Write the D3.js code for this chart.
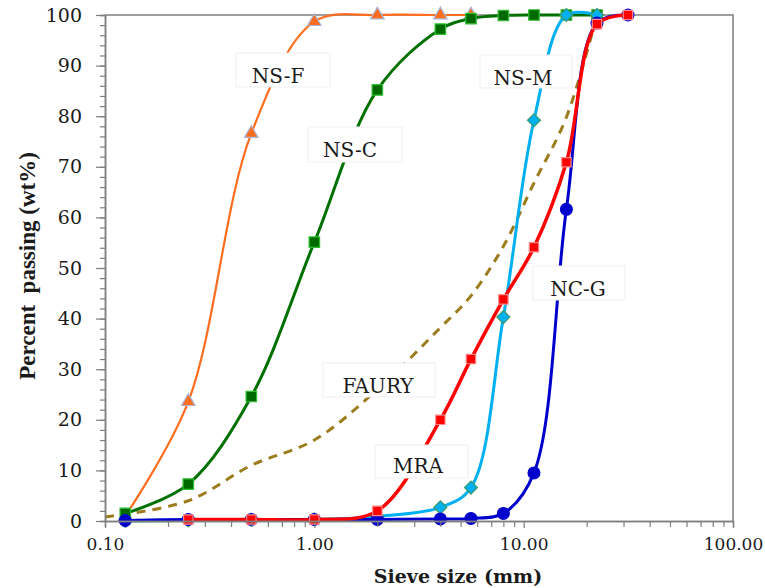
<!DOCTYPE html>
<html>
<head>
<meta charset="utf-8">
<script src="https://cdn.jsdelivr.net/npm/d3@7"></script>
<style>
  body { margin: 0; background: #fff; }
  svg { display: block; }
</style>
</head>
<body>
<svg id="chart" width="765" height="588"></svg>
<script>
let kCanvas = { "w": 765, "h": 588 };
let kChart = { "left": 105, "right": 733, "top": 15, "bottom": 521 };

// sieve openings (mm)
let sieveSizes = [0.125, 0.25, 0.5, 1, 2, 4, 5.6, 8, 11.2, 16, 22.4, 31.5];

// percent passing per sieve (null = not measured)
let passNSF = [1.0, 23.6, 76.6, 98.7, 100, 100, 100, null, null, null, null, null];
let passNSC = [1.5, 7.3, 24.6, 55.1, 85.2, 97.2, 99.3, 99.9, 100, 100, 100, null];
let passNCG = [0.1, 0.3, 0.3, 0.3, 0.3, 0.4, 0.5, 1.5, 9.5, 61.6, 98.4, 100];
let passNSM = [0.0, 0.1, 0.2, 0.3, 0.9, 2.7, 6.6, 40.3, 79.2, 100, 100, null];
let passMRA = [null, 0.3, 0.3, 0.3, 2.0, 20.0, 32.0, 43.8, 54.1, 70.9, 98.2, 100];

// Faury reference curve
let fauryX = [0.1, 0.25, 0.5, 1, 2, 4, 5.6, 8, 11.2, 16, 22.4];
let fauryY = [0.8, 4.0, 11.0, 16.0, 26.0, 38.2, 44.5, 54.3, 66.8, 79.8, 100];

let xTicks = [0.1, 1, 10, 100];
let xMinor = [0.2, 0.3, 0.4, 0.5, 0.6, 0.7, 0.8, 0.9, 2, 3, 4, 5, 6, 7, 8, 9, 20, 30, 40, 50, 60, 70, 80, 90];
let yTicks = [0, 10, 20, 30, 40, 50, 60, 70, 80, 90, 100];
let yMinor = d3.range(0, 101, 2);

let kColors = {
  "axis": "#7f7f7f",
  "text": "#1a1a1a",
  "nsf": "#ff6d1f", "nsfEdge": "#a8b6d6",
  "nsc": "#007000", "nscFill": "#006a00", "nscEdge": "#2fc02f",
  "ncg": "#0000cc",
  "nsm": "#00b0f0", "nsmEdge": "#3f9a6a",
  "mra": "#ff0000", "mraEdge": "#ff8a8a",
  "faury": "#9c7c1c"
};

// label boxes (pixel layout)
let kLabels = [
  { "text": "NS-F",  "x": 236, "y": 53,  "w": 94, "h": 34, "cx": 278, "by": 83 },
  { "text": "NS-C",  "x": 308, "y": 127, "w": 94, "h": 35, "cx": 350, "by": 157 },
  { "text": "NS-M",  "x": 480, "y": 55,  "w": 92, "h": 33, "cx": 523, "by": 85 },
  { "text": "NC-G",  "x": 533, "y": 266, "w": 92, "h": 34, "cx": 578, "by": 296 },
  { "text": "FAURY", "x": 323, "y": 363, "w": 112, "h": 34, "cx": 378, "by": 393 },
  { "text": "MRA",   "x": 375, "y": 445, "w": 93, "h": 33, "cx": 418, "by": 473 }
];

let svg = d3.select("#chart");
let x = d3.scaleLog().domain([0.1, 100]).range([kChart.left, kChart.right]);
let y = d3.scaleLinear().domain([0, 100]).range([kChart.bottom, kChart.top]);


function toPoints(xs, ys){
  return xs.map(function(v, i){ return { "x": v, "y": ys[i] }; });
}


function drawFrame(){
  svg.append("rect").attr("width", kCanvas.w).attr("height", kCanvas.h).attr("fill", "#fff");

  svg.append("path")
    .attr("d", "M" + kChart.left + "," + kChart.top + "H" + kChart.right + "V" + kChart.bottom)
    .attr("fill", "none")
    .attr("stroke", kColors.axis)
    .attr("stroke-width", 1.5);
}


function drawAxes(){
  // y minor + major
  svg.append("g")
    .attr("transform", "translate(" + kChart.left + ",0)")
    .call(d3.axisLeft(y).tickValues(yMinor).tickSize(5).tickFormat(""))
    .call(styleAxis);

  let gy = svg.append("g")
    .attr("transform", "translate(" + kChart.left + ",0)")
    .call(d3.axisLeft(y).tickValues(yTicks).tickSize(9).tickPadding(14).tickSizeOuter(0))
    .call(styleAxis);
  gy.selectAll("text")
    .attr("font-family", "DejaVu Serif")
    .attr("font-size", 19);

  // x minor + major
  svg.append("g")
    .attr("transform", "translate(0," + kChart.bottom + ")")
    .call(d3.axisBottom(x).tickValues(xMinor).tickSize(6).tickFormat(""))
    .call(styleAxis);

  let gx = svg.append("g")
    .attr("transform", "translate(0," + kChart.bottom + ")")
    .call(d3.axisBottom(x).tickValues(xTicks).tickSize(7).tickPadding(10).tickFormat(d3.format(".2f")).tickSizeOuter(0))
    .call(styleAxis);
  gx.selectAll("text")
    .attr("font-family", "DejaVu Serif")
    .attr("font-size", 17);

  // titles
  svg.append("text")
    .attr("transform", "translate(35," + 266 + ") rotate(-90)")
    .attr("text-anchor", "middle")
    .attr("font-family", "Liberation Serif")
    .attr("font-weight", "bold")
    .attr("font-size", 23)
    .attr("fill", kColors.text)
    .style("white-space", "pre")
    .text("Percent  passing (wt%)");

  svg.append("text")
    .attr("x", 458)
    .attr("y", 583)
    .attr("text-anchor", "middle")
    .attr("font-family", "DejaVu Serif")
    .attr("font-weight", "bold")
    .attr("font-size", 19)
    .attr("fill", kColors.text)
    .text("Sieve size (mm)");
}


function styleAxis(g){
  g.select(".domain").attr("stroke", kColors.axis).attr("stroke-width", 1.5);
  g.selectAll(".tick line").attr("stroke", kColors.axis).attr("stroke-width", 1.2);
  g.selectAll(".tick text").attr("fill", kColors.text);
}


function drawSeries(points, opts){
  let line = d3.line()
    .x(function(d){ return x(d.x); })
    .y(function(d){ return y(d.y); })
    .curve(d3.curveCatmullRom.alpha(0.5));

  let pts = points.filter(function(d){ return d.y != null; });
  let g = svg.append("g");

  g.append("path")
    .datum(pts)
    .attr("d", line)
    .attr("fill", "none")
    .attr("stroke", opts.color)
    .attr("stroke-width", opts.width)
    .attr("stroke-dasharray", opts.dash || null);

  if (!opts.symbol) return;

  let sym = d3.symbol().type(opts.symbol).size(opts.size);
  g.selectAll("path.marker")
    .data(pts)
    .join("path")
    .attr("class", "marker")
    .attr("d", sym)
    .attr("transform", function(d){
      return "translate(" + x(d.x) + "," + y(d.y) + ")" + (opts.rotate ? " rotate(" + opts.rotate + ")" : "");
    })
    .attr("fill", opts.fill)
    .attr("stroke", opts.edge)
    .attr("stroke-width", 1.2);
}


function drawLabels(){
  kLabels.forEach(function(l){
    svg.append("rect")
      .attr("x", l.x).attr("y", l.y)
      .attr("width", l.w).attr("height", l.h)
      .attr("fill", "#fff")
      .attr("stroke", "#efefef")
      .attr("stroke-width", 1);

    svg.append("text")
      .attr("x", l.cx).attr("y", l.by)
      .attr("text-anchor", "middle")
      .attr("font-family", "DejaVu Serif")
      .attr("font-size", 20)
      .attr("fill", kColors.text)
      .text(l.text);
  });
}


drawFrame();

drawSeries(toPoints(fauryX, fauryY), { "color": kColors.faury, "width": 3, "dash": "9,7" });
drawSeries(toPoints(sieveSizes, passNSF), { "color": kColors.nsf, "width": 2.2, "symbol": d3.symbolTriangle, "size": 80, "fill": kColors.nsf, "edge": kColors.nsfEdge });
drawSeries(toPoints(sieveSizes, passNSC), { "color": kColors.nsc, "width": 3, "symbol": d3.symbolSquare, "size": 110, "fill": kColors.nscFill, "edge": kColors.nscEdge });
drawSeries(toPoints(sieveSizes, passNSM), { "color": kColors.nsm, "width": 3, "symbol": d3.symbolSquare, "size": 85, "rotate": 45, "fill": kColors.nsm, "edge": kColors.nsmEdge });
drawSeries(toPoints(sieveSizes, passNCG), { "color": kColors.ncg, "width": 3, "symbol": d3.symbolCircle, "size": 110, "fill": kColors.ncg, "edge": kColors.ncg });
drawSeries(toPoints(sieveSizes, passMRA), { "color": kColors.mra, "width": 3.5, "symbol": d3.symbolSquare, "size": 88, "fill": kColors.mra, "edge": kColors.mraEdge });

drawAxes();
drawLabels();
</script>
</body>
</html>
